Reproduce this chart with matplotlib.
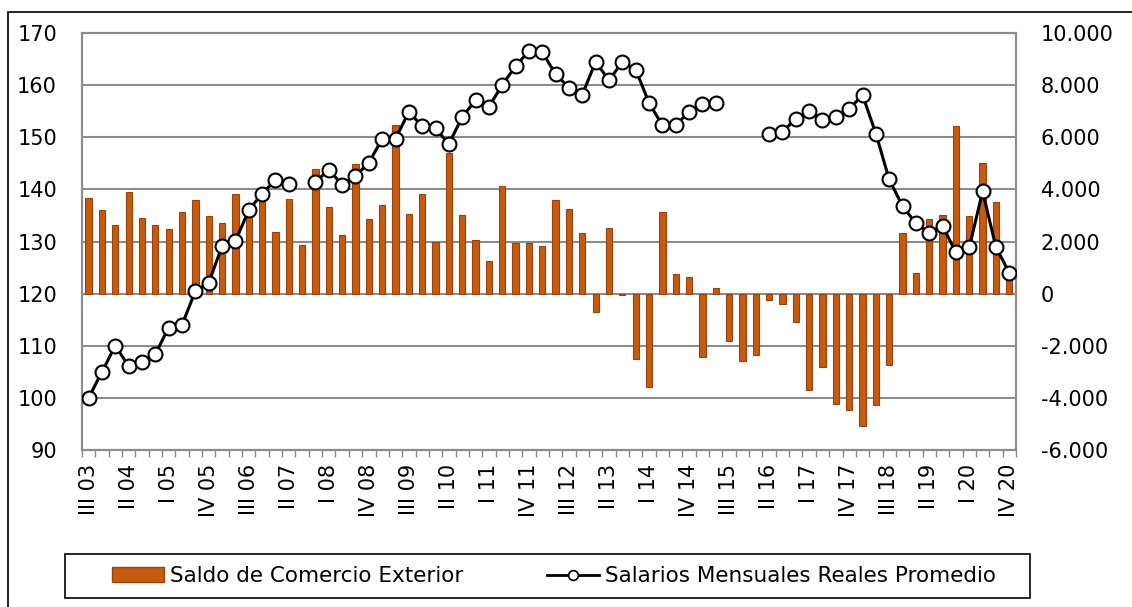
import numpy as np
import matplotlib
matplotlib.use("Agg")
import matplotlib.pyplot as plt
from matplotlib.ticker import FuncFormatter, FixedLocator
from matplotlib.patches import Rectangle, Patch
from matplotlib.lines import Line2D

# quarterly, III 2003 .. IV 2020
roman = ["I", "II", "III", "IV"]
quarters = []
for k in range(70):
    q = (2 + k) % 4
    yr = 3 + (2 + k) // 4
    quarters.append(f"{roman[q]} {yr:02d}")

# Saldo de Comercio Exterior (right axis)
saldo = [3672, 3199, 2623, 3916, 2892, 2623, 2495, 3122, 3608, 2981,
         2713, 3839, 3300, 3700, 2355, 3647, 1881, 4786, 3327, 2265,
         4990, 2866, 3391, 6488, 3071, 3826, 1983, 5400, 3020, 2047,
         1241, 4146, 1945, 1932, 1843, 3596, 3250, 2342, -717, 2521,
         -50, -2495, -3583, 3122, 742, 653, -2418, 230, -1830, -2598,
         -2342, -256, -409, -1075, -3685, -2802, -4248, -4479, -5080, -4274,
         -2726, 2329, 781, 2866, 3033, 6436, 2969, 5003, 3506, 700]

# Salarios Mensuales Reales Promedio (left axis), NaN = no data
salarios = [100.0, 105.0, 110.0, 106.1, 106.9, 108.4, 113.5, 114.0, 120.5, 122.1,
            129.1, 130.1, 136.0, 139.2, 141.8, 141.1, np.nan, 141.4, 143.8, 140.9,
            142.6, 145.1, 149.7, 149.7, 154.9, 152.1, 151.7, 148.7, 153.9, 157.1,
            155.9, 160.0, 163.7, 166.5, 166.3, 162.1, 159.5, 158.2, 164.5, 160.9,
            164.5, 163.0, 156.6, 152.3, 152.3, 154.9, 156.3, 156.6, np.nan, np.nan,
            np.nan, 150.6, 151.0, 153.6, 155.0, 153.4, 153.9, 155.4, 158.1, 150.7,
            141.9, 136.8, 133.5, 131.7, 133.0, 127.9, 128.9, 139.6, 128.9, 124.0]

plt.rcParams['font.family'] = ['DejaVu Sans']
fs = 15
W, H = 1132, 607

fig = plt.figure(figsize=(11.32, 6.07), dpi=100)
ax_bar = fig.add_axes([0.0724, 0.2586, 0.8251, 0.687])
ax_line = ax_bar.twinx()
ax_line.set_zorder(ax_bar.get_zorder() + 1)
ax_line.patch.set_visible(False)

x = np.arange(len(quarters))
grid_c = "#8c8c8c"
bar_c, bar_edge = "#C55A11", "#9a440c"

ax_bar.bar(x, saldo, width=0.47, color=bar_c, edgecolor=bar_edge,
           linewidth=0.8, zorder=3)
ax_bar.set_ylim(-6000, 10000)
ax_bar.set_xlim(-0.5, len(x) - 0.5)
ax_bar.yaxis.set_major_locator(FixedLocator(np.arange(-6000, 10001, 2000)))
ax_bar.yaxis.set_major_formatter(FuncFormatter(lambda v, p: f"{int(v):,}".replace(",", ".")))
ax_bar.yaxis.tick_right()
ax_bar.grid(axis="y", color=grid_c, linewidth=1.5, zorder=0)
ax_bar.set_axisbelow(True)

ax_line.plot(x, salarios, color="black", linewidth=2.2, marker="o",
             markersize=10, markerfacecolor="white", markeredgecolor="black",
             markeredgewidth=1.5, zorder=5)
ax_line.set_ylim(90, 170)
ax_line.yaxis.set_major_locator(FixedLocator(np.arange(90, 171, 10)))
ax_line.yaxis.tick_left()

for a in (ax_bar, ax_line):
    for s in a.spines.values():
        s.set_color(grid_c)
        s.set_linewidth(1.5)
    a.tick_params(axis="y", length=0, labelsize=fs, pad=18)

ax_bar.set_xticks(x[::3])
ax_bar.set_xticklabels(quarters[::3], rotation=90, fontsize=fs)
ax_bar.set_xticks(np.arange(-0.5, len(x)), minor=True)
ax_bar.tick_params(axis="x", which="major", length=0, pad=10)
ax_bar.tick_params(axis="x", which="minor", length=5, color=grid_c, width=1)
ax_line.tick_params(axis="x", length=0, labelbottom=False)

# outer frame
fig.patches.append(Rectangle((8 / W, -0.01), 1.0, 1 - 12 / H + 0.01,
                             transform=fig.transFigure, fill=False,
                             edgecolor="black", linewidth=1.2))
# legend frame
fig.patches.append(Rectangle((65 / W, 1 - 598 / H), 965 / W, 44 / H,
                             transform=fig.transFigure, fill=False,
                             edgecolor="black", linewidth=1.2))

handles = [Patch(facecolor=bar_c, edgecolor=bar_edge, linewidth=1.0),
           Line2D([], [], color="black", linewidth=2, marker="o", markersize=7,
                  markerfacecolor="white", markeredgecolor="black", markeredgewidth=1.2)]
labels = ["Saldo de Comercio Exterior", "Salarios Mensuales Reales Promedio"]
leg = fig.legend(handles, labels, loc="center left", ncol=2, fontsize=15.5,
                 bbox_to_anchor=(112 / W, 1 - 576 / H), frameon=False,
                 handlelength=2.4, handleheight=0.65, handletextpad=0.28,
                 columnspacing=3.9, borderpad=0, borderaxespad=0)

fig.savefig("out.png", dpi=100)
